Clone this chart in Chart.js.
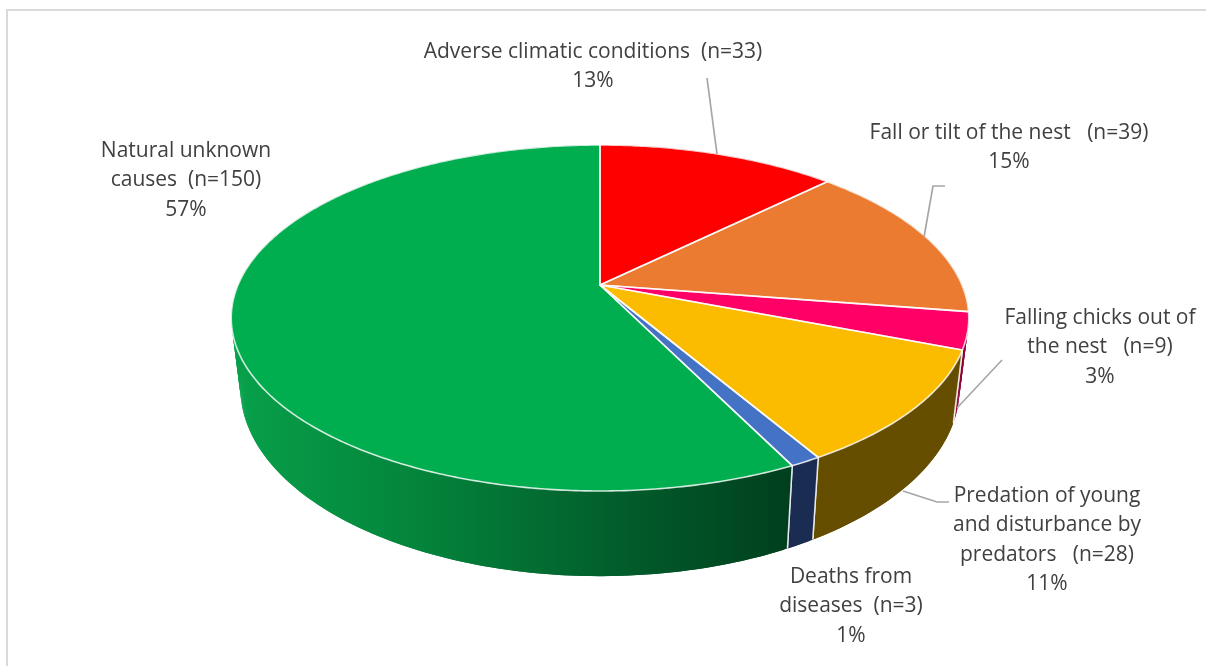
<!DOCTYPE html>
<html>
<head>
<meta charset="utf-8">
<title>Causes of nest failure</title>
<script src="https://cdn.jsdelivr.net/npm/chart.js@4"></script>
<style>
  html, body { margin: 0; padding: 0; background: #fff; }
  canvas { display: block; }
</style>
</head>
<body>
<canvas id="pie3d" width="1206" height="666"></canvas>
<script>
var categories = ['Adverse climatic conditions', 'Fall or tilt of the nest', 'Falling chicks out of the nest',
    'Predation of young and disturbance by predators', 'Deaths from diseases', 'Natural unknown causes'];
var counts = [33, 39, 9, 28, 3, 150];
var labelLines = [
    ['Adverse climatic conditions  (n=33)'],
    ['Fall or tilt of the nest   (n=39)'],
    ['Falling chicks out of', 'the nest   (n=9)'],
    ['Predation of young', 'and disturbance by', 'predators   (n=28)'],
    ['Deaths from', 'diseases  (n=3)'],
    ['Natural unknown', 'causes  (n=150)']
];

var topColors = ['#ff0000', '#eb7b30', '#ff0066', '#fbbc00', '#4472c4', '#00ad4f'];
var sideColors = ['#800000', '#77401a', '#8c0038', '#664e00', '#1a2c52'];

// label anchor: centre x and y of first line
var labelPos = [[593, 52], [1009, 133], [1100, 318], [1047, 496], [851, 577], [186, 151]];
var leaders = [
    [[707, 78], [717, 154]],
    [[945, 186], [933, 186], [924, 237]],
    [[1002, 360], [957, 408]],
    [[903, 491], [937, 502], [949, 502]]
];

// perspective of the disc: top face and bottom face
var top3d = { x: 600, y: 285, rx: 362, ry: 166.7 };
var bottom3d = { x: 600, y: 352, rx: 353, ry: 181.4 };
var tilt = 0.1907;

function project(face, a) {
    var u = Math.cos(a), v = Math.sin(a), w = 1 - tilt * v;
    return [face.x + face.rx * u / w, face.y + face.ry * v / w];
}

function arcPoints(face, a0, a1) {
    var pts = [], n = Math.max(2, Math.ceil((a1 - a0) / 0.01));
    for (var i = 0; i <= n; i++) {
        pts.push(project(face, a0 + (a1 - a0) * i / n));
    }
    return pts;
}

function sideFill(ctx, i) {
    if (i < sideColors.length) return sideColors[i];
    var g = ctx.createLinearGradient(235, 0, 790, 0);
    g.addColorStop(0, '#07a04a');
    g.addColorStop(0.35, '#04823a');
    g.addColorStop(0.7, '#025c2b');
    g.addColorStop(1, '#003f1e');
    return g;
}

function topPath(ctx, arc) {
    ctx.beginPath();
    ctx.moveTo(top3d.x, top3d.y);
    arcPoints(top3d, arc.startAngle, arc.endAngle).forEach(function (p) {
        ctx.lineTo(p[0], p[1]);
    });
    ctx.closePath();
}

var pie3dPlugin = {
    id: 'pie3d',
    beforeDraw: function (chart) {
        var ctx = chart.ctx;
        ctx.save();
        ctx.strokeStyle = '#d9d9d9';
        ctx.lineWidth = 2;
        ctx.beginPath();
        ctx.moveTo(7, 666);
        ctx.lineTo(7, 10);
        ctx.lineTo(1206, 10);
        ctx.stroke();
        ctx.restore();
    },
    beforeDatasetsDraw: function (chart) {
        var ctx = chart.ctx;
        var arcs = chart.getDatasetMeta(0).data;
        ctx.save();
        ctx.lineJoin = 'round';

        // side wall, overlapping thin quads so the outline follows the cylinder
        arcs.forEach(function (arc, i) {
            var a0 = arc.startAngle, a1 = arc.endAngle;
            var upper = arcPoints(top3d, a0, a1);
            var lower = arcPoints(bottom3d, a0, a1);
            ctx.fillStyle = sideFill(ctx, i);
            for (var k = 0; k < upper.length - 1; k++) {
                var e = Math.min(k + 2, upper.length - 1);
                ctx.beginPath();
                ctx.moveTo(upper[k][0], upper[k][1]);
                ctx.lineTo(upper[e][0], upper[e][1]);
                ctx.lineTo(lower[e][0], lower[e][1]);
                ctx.lineTo(lower[k][0], lower[k][1]);
                ctx.closePath();
                ctx.fill();
            }
            [a0, a1].forEach(function (a) {
                if (Math.sin(a) < 0.3) return;
                var p = project(top3d, a), q = project(bottom3d, a);
                ctx.beginPath();
                ctx.moveTo(p[0], p[1]);
                ctx.lineTo(q[0], q[1]);
                ctx.strokeStyle = 'rgba(255,255,255,0.8)';
                ctx.lineWidth = 1.5;
                ctx.stroke();
            });
        });

        // top face
        arcs.forEach(function (arc, i) {
            topPath(ctx, arc);
            ctx.fillStyle = topColors[i];
            ctx.fill();
        });
        arcs.forEach(function (arc) {
            topPath(ctx, arc);
            ctx.strokeStyle = 'rgba(255,255,255,0.8)';
            ctx.lineWidth = 1.6;
            ctx.stroke();
        });
        ctx.restore();
        return false;
    },
    afterDraw: function (chart) {
        var ctx = chart.ctx;
        var total = counts.reduce(function (s, c) { return s + c; }, 0);
        ctx.save();
        ctx.strokeStyle = '#a6a6a6';
        ctx.lineWidth = 1.7;
        leaders.forEach(function (line) {
            ctx.beginPath();
            line.forEach(function (p, i) {
                if (i === 0) ctx.moveTo(p[0], p[1]); else ctx.lineTo(p[0], p[1]);
            });
            ctx.stroke();
        });
        ctx.fillStyle = '#404040';
        ctx.font = '21px "Open Sans"';
        ctx.textAlign = 'center';
        ctx.textBaseline = 'middle';
        labelLines.forEach(function (lines, i) {
            var all = lines.concat([Math.round(counts[i] / total * 100) + '%']);
            all.forEach(function (t, k) {
                ctx.fillText(t, labelPos[i][0], labelPos[i][1] + k * 29.3);
            });
        });
        ctx.restore();
    }
};

var ctx1 = document.getElementById('pie3d').getContext('2d');
var myChart = new Chart(ctx1, {
    type: 'pie',
    data: {
        labels: categories,
        datasets: [{
            data: counts,
            backgroundColor: topColors,
            borderColor: '#ffffff'
        }]
    },
    options: {
        responsive: false,
        animation: false,
        plugins: {
            legend: { display: false },
            tooltip: { enabled: false }
        }
    },
    plugins: [pie3dPlugin]
});
</script>
</body>
</html>
